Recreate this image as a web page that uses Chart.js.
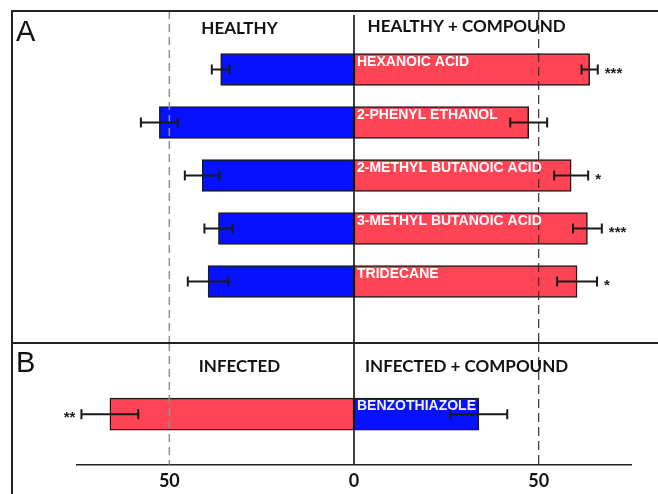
<!DOCTYPE html>
<html>
<head>
<meta charset="utf-8">
<script src="https://cdn.jsdelivr.net/npm/chart.js@4.4.1/dist/chart.umd.min.js"></script>
<style>
  html, body { margin: 0; padding: 0; background: #fff; overflow: hidden; }
  body { width: 658px; height: 494px; position: relative; }
  .wrap { position: absolute; left: 0; width: 658px; }
  #wrapA { top: 0; height: 343px; }
  #wrapB { top: 343px; height: 160px; }
  #frame { position: absolute; left: 11px; top: 10px; width: 700px; height: 600px;
           border-left: 2px solid #222; border-top: 2px solid #222; pointer-events: none; }
  #divider { position: absolute; left: 11px; top: 342px; width: 700px; height: 0;
             border-top: 2px solid #222; pointer-events: none; }
</style>
</head>
<body>
<div class="wrap" id="wrapA"><canvas id="chartA" width="658" height="343"></canvas></div>
<div class="wrap" id="wrapB"><canvas id="chartB" width="658" height="160"></canvas></div>
<div id="frame"></div>
<div id="divider"></div>
<script>
// panel A: healthy vs healthy + compound
const compoundsA = ['HEXANOIC ACID', '2-PHENYL ETHANOL', '2-METHYL BUTANOIC ACID', '3-METHYL BUTANOIC ACID', 'TRIDECANE'];
const healthy = [36.1, 52.7, 41.1, 36.7, 39.5];
const healthyErr = [2.4, 5.0, 4.7, 3.8, 5.5];
const healthyCompound = [63.8, 47.3, 58.8, 63.2, 60.4];
const healthyCompoundErr = [2.2, 5.0, 4.6, 3.9, 5.4];
const sigA = ['***', '', '*', '***', '*'];

// panel B: infected vs infected + compound
const compoundsB = ['BENZOTHIAZOLE'];
const infected = [66.1];
const infectedErr = [7.7];
const infectedCompound = [33.8];
const infectedCompoundErr = [7.7];
const sigB = ['**'];

const xTicks = [-50, 0, 50];
const xMin = -75, xMax = 75;

const BLUE = '#0511ff';
const RED = '#ff4555';
const EDGE = '#1a1a1a';

function overlay(opts) {
  return {
    id: 'overlay' + opts.letter,
    afterDatasetsDraw(chart) {
      const ctx = chart.ctx, xs = chart.scales.x;
      const area = chart.chartArea;
      const bottom = opts.lineBottom === 'area' ? area.bottom : chart.height;
      ctx.save();
      // reference lines at -50 / 50 and solid zero line
      ctx.lineWidth = 1.5;
      ctx.setLineDash([8, 5]);
      ctx.strokeStyle = '#8f8f8f';
      let px = xs.getPixelForValue(-50);
      ctx.beginPath(); ctx.moveTo(px, opts.lineTop); ctx.lineTo(px, bottom); ctx.stroke();
      ctx.lineWidth = 1.2;
      ctx.setLineDash([9, 5]);
      ctx.strokeStyle = '#333';
      px = xs.getPixelForValue(50);
      ctx.beginPath(); ctx.moveTo(px, opts.lineTop); ctx.lineTo(px, bottom); ctx.stroke();
      ctx.setLineDash([]);
      ctx.lineWidth = 1.6;
      ctx.strokeStyle = '#111';
      px = xs.getPixelForValue(0);
      ctx.beginPath(); ctx.moveTo(px, opts.zeroTop); ctx.lineTo(px, bottom); ctx.stroke();

      // compound names on the right-hand bars
      const rightMeta = chart.getDatasetMeta(1);
      ctx.font = 'bold 14px "Liberation Sans", Arial, sans-serif';
      ctx.fillStyle = opts.labelColor;
      ctx.textAlign = 'left';
      ctx.textBaseline = 'alphabetic';
      rightMeta.data.forEach((bar, i) => {
        ctx.fillText(chart.data.labels[i], xs.getPixelForValue(0) + 3, bar.y - bar.height / 2 + 12);
      });

      // error bars and significance marks
      chart.data.datasets.forEach((ds, di) => {
        const meta = chart.getDatasetMeta(di);
        meta.data.forEach((bar, i) => {
          const v = ds.data[i], e = ds.errors[i];
          const x1 = xs.getPixelForValue(v - e), x2 = xs.getPixelForValue(v + e);
          const y = bar.y;
          ctx.strokeStyle = '#1a1a1a';
          ctx.lineWidth = 2;
          ctx.beginPath();
          ctx.moveTo(x1, y); ctx.lineTo(x2, y);
          ctx.moveTo(x1, y - 5); ctx.lineTo(x1, y + 5);
          ctx.moveTo(x2, y - 5); ctx.lineTo(x2, y + 5);
          ctx.stroke();
          const s = ds.sig ? ds.sig[i] : '';
          if (s) {
            ctx.font = 'bold 15px "Liberation Sans", Arial, sans-serif';
            ctx.fillStyle = '#222';
            ctx.textBaseline = 'middle';
            if (v < 0) {
              ctx.textAlign = 'right';
              ctx.fillText(s, Math.min(x1, x2) - 6, y + 4);
            } else {
              ctx.textAlign = 'left';
              ctx.fillText(s, Math.max(x1, x2) + 7, y + 4);
            }
          }
        });
      });

      // panel letter and column headers
      ctx.fillStyle = '#111';
      ctx.textBaseline = 'alphabetic';
      ctx.textAlign = 'left';
      ctx.font = '29px "Liberation Sans", Arial, sans-serif';
      ctx.fillText(opts.letter, 16, opts.letterBase);
      ctx.font = 'bold 17px Lato, "Open Sans", sans-serif';
      ctx.textAlign = 'center';
      ctx.fillText(opts.headers[0], xs.getPixelForValue(-31), opts.headerBase[0]);
      ctx.fillText(opts.headers[1], xs.getPixelForValue(30.5), opts.headerBase[1]);
      ctx.restore();
    }
  };
}

function buildChart(id, labels, left, leftErr, leftColor, leftSig, right, rightErr, rightColor, rightSig, showAxis, pad, ov) {
  return new Chart(document.getElementById(id), {
    type: 'bar',
    data: {
      labels: labels,
      datasets: [
        { data: left.map(v => -v), errors: leftErr, sig: leftSig, backgroundColor: leftColor,
          borderColor: EDGE, borderWidth: 1.5, borderSkipped: false, barThickness: 32 },
        { data: right, errors: rightErr, sig: rightSig, backgroundColor: rightColor,
          borderColor: EDGE, borderWidth: 1.5, borderSkipped: false, barThickness: 32 }
      ]
    },
    options: {
      indexAxis: 'y',
      responsive: false,
      animation: false,
      devicePixelRatio: 1,
      layout: { padding: pad },
      plugins: { legend: { display: false }, tooltip: { enabled: false } },
      scales: {
        x: {
          display: showAxis,
          stacked: true,
          min: xMin, max: xMax,
          grid: { display: false, drawTicks: false },
          border: { display: showAxis, color: '#222', width: 1.6 },
          afterBuildTicks: axis => { axis.ticks = xTicks.map(v => ({ value: v })); },
          ticks: {
            padding: 6,
            color: '#111',
            font: { family: 'Lato, "Open Sans", sans-serif', size: 18, weight: 'bold' },
            callback: v => Math.abs(v)
          }
        },
        y: { display: false, stacked: true }
      }
    },
    plugins: [ov]
  });
}

buildChart('chartA', compoundsA, healthy, healthyErr, BLUE, null,
  healthyCompound, healthyCompoundErr, RED, sigA, false,
  { left: 77, right: 27, top: 43, bottom: 35 },
  overlay({ letter: 'A', letterBase: 41, headers: ['HEALTHY', 'HEALTHY + COMPOUND'], headerBase: [34, 32],
            lineTop: 11, zeroTop: 15, lineBottom: 'canvas', labelColor: '#ffffff' }));

buildChart('chartB', compoundsB, infected, infectedErr, RED, sigB,
  infectedCompound, infectedCompoundErr, BLUE, null, true,
  { left: 77, right: 27, top: 21, bottom: 5 },
  overlay({ letter: 'B', letterBase: 29, headers: ['INFECTED', 'INFECTED + COMPOUND'], headerBase: [29, 29],
            lineTop: 0, zeroTop: 0, lineBottom: 'area', labelColor: '#f0f0ff' }));
</script>
</body>
</html>
